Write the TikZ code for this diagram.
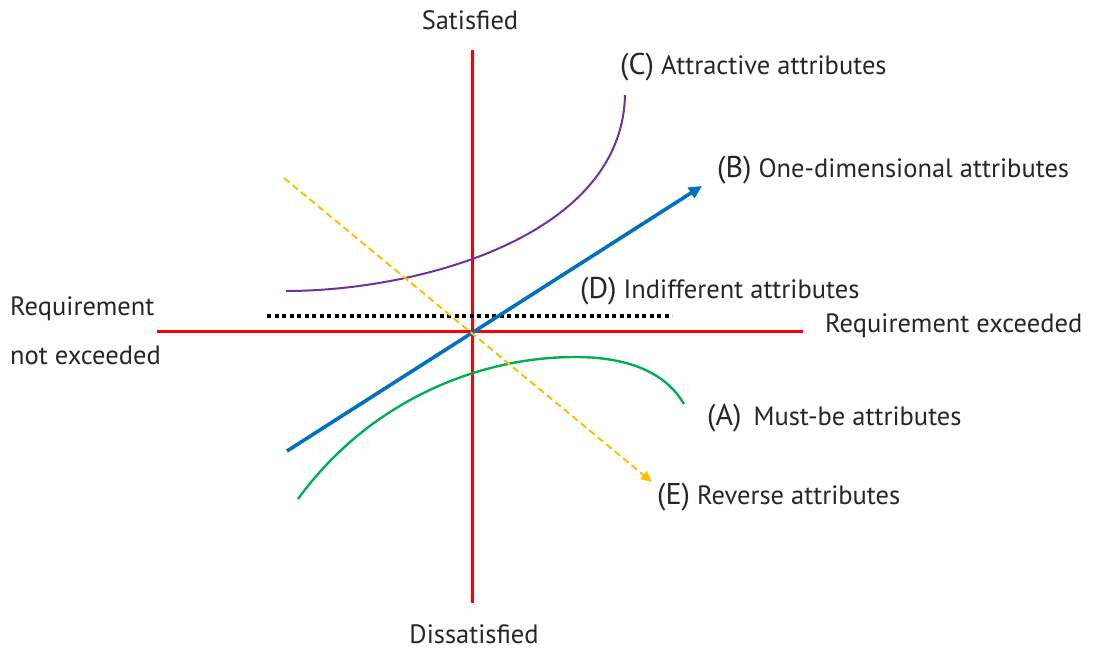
\documentclass[tikz,border=0pt]{standalone}
\usepackage{fontspec}
\setmainfont{PT Sans}
\usetikzlibrary{arrows.meta}
\definecolor{axisred}{RGB}{255,0,0}
\definecolor{kblue}{RGB}{0,112,192}
\definecolor{korange}{RGB}{255,192,0}
\definecolor{kpurple}{RGB}{112,48,160}
\definecolor{kgreen}{RGB}{0,176,80}
\newcommand{\bigpar}[1]{{\fontsize{30}{34}\selectfont #1}}
\tikzset{
  axis/.style={draw=axisred, line width=3pt},
  lbl/.style={font=\fontsize{26.5}{30}\selectfont, text=black!85, inner sep=0pt}
}
\begin{document}
\begin{tikzpicture}[x=1pt,y=-1pt]
\useasboundingbox (0,0) rectangle (1096,650);
% axes
\coordinate (vt) at (472,50);
\coordinate (vb) at (472,603);
\coordinate (hl) at (157,331);
\coordinate (hr) at (803,331);
\draw[axis] (vt) -- (vb);
\draw[axis] (hl) -- (hr);
% dotted indifferent
\coordinate (d1) at (267,316);
\coordinate (d2) at (672,316);
\draw[line width=4pt, dash pattern=on 4pt off 3.5pt] (d1) -- (d2);
% purple attractive
\coordinate (p1) at (286,291);
\coordinate (p2) at (625,95);
\draw[kpurple, line width=2pt] (p1) .. controls (415,291) and (622,238) .. (p2);
% green must-be
\coordinate (g1) at (298,499);
\coordinate (g2) at (575,357);
\coordinate (g3) at (684,404);
\draw[kgreen, line width=2.4pt] (g1) .. controls (370,400) and (480,357) .. (g2) .. controls (640,357) and (670,380) .. (g3);
% blue one-dimensional
\coordinate (b1) at (287,451);
\coordinate (b2) at (702,186);
\draw[kblue, line width=3.6pt, -{Triangle[length=13pt,width=12pt]}] (b1) -- (b2);
% orange reverse
\coordinate (o1) at (284,178);
\coordinate (o2) at (652,482);
\draw[korange, line width=2pt, dash pattern=on 7pt off 4pt, -{Triangle[length=11pt,width=10pt]}] (o1) -- (o2);
% labels
\node[lbl] (sat) at (470,20) {Satisfied};
\node[lbl, anchor=base] (dis) at (474,643) {Dissatisfied};
\node[lbl, anchor=west] (rex) at (825,326) {Requirement exceeded};
\node[lbl, anchor=west] (rn1) at (10,309) {Requirement};
\node[lbl, anchor=west] (rn2) at (10,355) {not exceeded};
\node[lbl, anchor=west] (lc) at (620,67) {\bigpar{(C)} Attractive attributes};
\node[lbl, anchor=west] (lb) at (717,170) {\bigpar{(B)} One-dimensional attributes};
\node[lbl, anchor=west] (ld) at (580,291) {\bigpar{(D)} Indifferent attributes};
\node[lbl, anchor=west] (la) at (707,418) {\bigpar{(A)}\hspace{12pt}Must-be attributes};
\node[lbl, anchor=west] (le) at (657,497) {\bigpar{(E)} Reverse attributes};
\end{tikzpicture}
\end{document}
